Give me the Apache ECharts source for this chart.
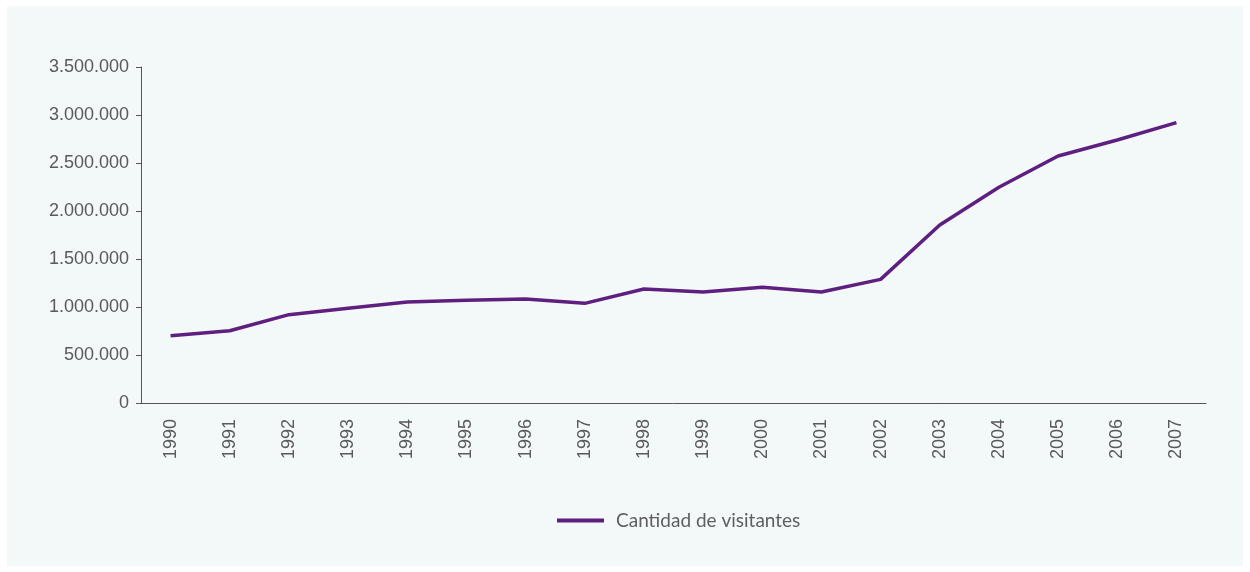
<!DOCTYPE html>
<html>
<head>
<meta charset="utf-8">
<title>Cantidad de visitantes</title>
<script src="https://cdn.jsdelivr.net/npm/echarts@6/dist/echarts.min.js"></script>
<style>
  html, body { margin: 0; padding: 0; background: #ffffff; }
  #chart { width: 1250px; height: 572px; }
</style>
</head>
<body>
<div id="chart"></div>
<script>
var years = ['1990','1991','1992','1993','1994','1995','1996','1997','1998',
             '1999','2000','2001','2002','2003','2004','2005','2006','2007'];
var visitantes = [700000, 752000, 920000, 986000, 1052000, 1070000, 1083000, 1038000, 1188000,
                  1156000, 1205000, 1156000, 1288000, 1854000, 2247000, 2573000, 2740000, 2920000];
var serieName = 'Cantidad de visitantes';

var myChart = echarts.init(document.getElementById('chart'));

// separador de miles con punto
function fmt(v) {
    return String(v).replace(/\B(?=(\d{3})+(?!\d))/g, '.');
}

var option = {
    backgroundColor: '#ffffff',
    animation: false,
    graphic: [{
        type: 'rect',
        z: -10,
        silent: true,
        shape: { x: 7, y: 6, width: 1236, height: 560 },
        style: { fill: '#f3f8f8' }
    }],
    grid: { left: 141, right: 44, top: 67, bottom: 169 },
    legend: {
        data: [serieName],
        left: 557,
        top: 511,
        padding: 0,
        icon: 'rect',
        itemWidth: 47,
        itemHeight: 4,
        textStyle: {
            color: '#5f5f5f',
            fontSize: 19,
            fontFamily: 'Lato',
            padding: [0, 0, 0, 7]
        }
    },
    xAxis: {
        type: 'category',
        data: years,
        boundaryGap: true,
        axisLine: { lineStyle: { color: '#555555', width: 1 } },
        axisTick: { length: 5, lineStyle: { color: '#555555' } },
        axisLabel: {
            rotate: 90,
            margin: 16,
            color: '#5a5a5a',
            fontSize: 18,
            fontFamily: 'Liberation Sans'
        }
    },
    yAxis: {
        type: 'value',
        min: 0,
        max: 3500000,
        interval: 500000,
        axisLine: { show: true, lineStyle: { color: '#555555', width: 1 } },
        axisTick: { show: true, length: 5, lineStyle: { color: '#555555' } },
        splitLine: { show: false },
        axisLabel: {
            margin: 12,
            color: '#5a5a5a',
            fontSize: 18,
            fontFamily: 'Liberation Sans',
            formatter: fmt
        }
    },
    series: [{
        name: serieName,
        type: 'line',
        data: visitantes,
        symbol: 'none',
        lineStyle: { color: '#5e1f80', width: 3.5 },
        itemStyle: { color: '#5e1f80' }
    }]
};
myChart.setOption(option);
</script>
</body>
</html>
